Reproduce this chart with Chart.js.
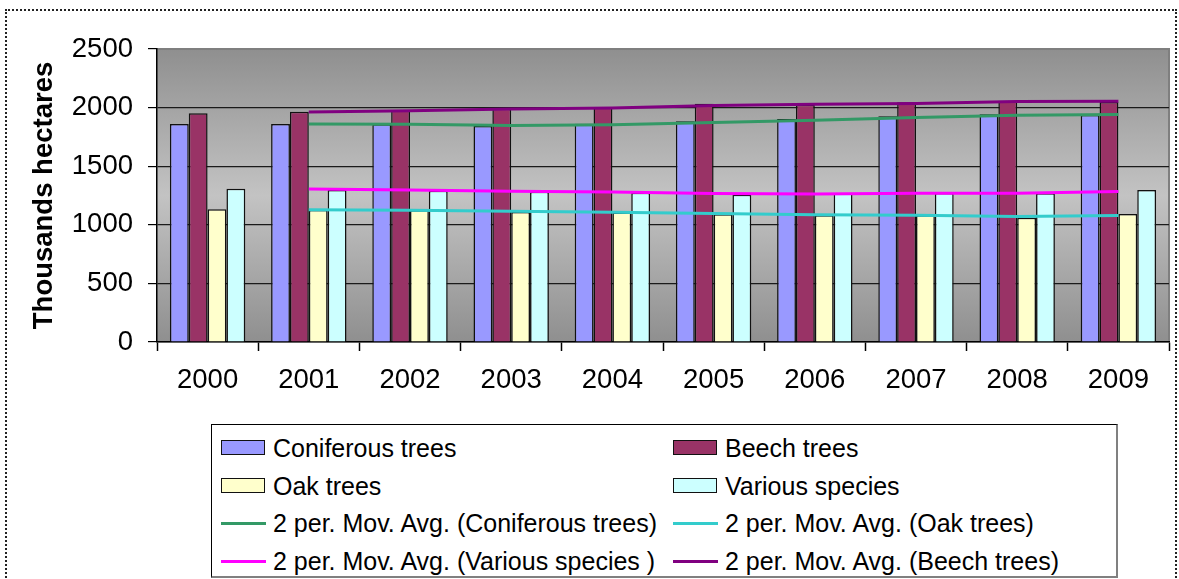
<!DOCTYPE html>
<html>
<head>
<meta charset="utf-8">
<script src="https://cdn.jsdelivr.net/npm/chart.js@4.4.1/dist/chart.umd.min.js"></script>
<style>
  html, body { margin: 0; padding: 0; background: #fff; }
  body { width: 1179px; height: 579px; position: relative; overflow: hidden; font-family: "Liberation Sans", Arial, sans-serif; }
  #frame { position: absolute; left: 5px; top: 9px; width: 1172px; height: 600px; border: 2px dotted #222; box-sizing: border-box; }
  #wrap { position: absolute; left: 0; top: 0; width: 1179px; height: 420px; }
  #legend { position: absolute; left: 211px; top: 424px; width: 907px; height: 154px; box-sizing: border-box;
            border-top: 1px solid #000; border-left: 1px solid #000; border-right: 2px solid #808080; border-bottom: 2px solid #808080; background: #fff; }
  .item { position: absolute; height: 30px; display: flex; align-items: center; font-size: 25px; color: #000; white-space: pre; }
  .sw { position: absolute; left: 0; }
  .txt { position: absolute; left: 52px; line-height: 30px; top: 0; }
</style>
</head>
<body>
<div id="frame"></div>
<div id="wrap"><canvas id="c" width="1179" height="420"></canvas></div>
<div id="legend"></div>
<script>
const years = ["2000","2001","2002","2003","2004","2005","2006","2007","2008","2009"];
const yTicks = [0, 500, 1000, 1500, 2000, 2500];

const coniferous = [1860, 1860, 1857, 1843, 1863, 1883, 1903, 1926, 1943, 1937];
const beech      = [1951, 1965, 1980, 1990, 2002, 2033, 2025, 2045, 2058, 2048];
const oak        = [1132, 1126, 1124, 1109, 1104, 1090, 1081, 1081, 1061, 1092];
const various    = [1308, 1297, 1291, 1283, 1274, 1257, 1269, 1271, 1269, 1297];

const maConiferous = [null, 1860, 1858, 1848, 1853, 1873, 1893, 1915, 1935, 1941];
const maOak        = [null, 1129, 1125, 1115, 1107, 1097, 1086, 1081, 1071, 1079];
const maVarious    = [null, 1305, 1296, 1287, 1279, 1266, 1263, 1270, 1270, 1285];
const maBeech      = [null, 1962, 1974, 1988, 1997, 2018, 2029, 2035, 2051, 2054];

const FONT = '"Liberation Sans", Arial, sans-serif';

const bgPlugin = {
  id: 'plotBg',
  beforeDraw(chart) {
    const {ctx, chartArea: a} = chart;
    const g = ctx.createLinearGradient(0, a.top, 0, a.bottom);
    g.addColorStop(0, '#8f8f8f');
    g.addColorStop(0.5, '#c3c3c3');
    g.addColorStop(1, '#8f8f8f');
    ctx.save();
    ctx.fillStyle = g;
    ctx.fillRect(a.left, a.top, a.right - a.left, a.bottom - a.top);
    ctx.strokeStyle = '#7f7f7f';
    ctx.lineWidth = 2;
    ctx.beginPath();
    ctx.moveTo(a.left, a.top);
    ctx.lineTo(a.right, a.top);
    ctx.lineTo(a.right, a.bottom);
    ctx.stroke();
    ctx.restore();
  }
};

function barDs(label, data, color) {
  return { type: 'bar', label, data, backgroundColor: color, borderColor: '#111', borderWidth: 1.5, order: 2,
           categoryPercentage: 0.745, barPercentage: 1.0 };
}
function lineDs(label, data, color) {
  return { type: 'line', label, data, borderColor: color, backgroundColor: color, borderWidth: 3,
           pointRadius: 0, tension: 0, fill: false, order: 1, spanGaps: false };
}

const chart = new Chart(document.getElementById('c'), {
  type: 'bar',
  data: {
    labels: years,
    datasets: [
      barDs('Coniferous trees', coniferous, '#9999FF'),
      barDs('Beech trees', beech, '#993366'),
      barDs('Oak trees', oak, '#FFFFCC'),
      barDs('Various species', various, '#CCFFFF'),
      lineDs('2 per. Mov. Avg. (Coniferous trees)', maConiferous, '#339966'),
      lineDs('2 per. Mov. Avg. (Oak trees)', maOak, '#33CCCC'),
      lineDs('2 per. Mov. Avg. (Various species )', maVarious, '#FF00FF'),
      lineDs('2 per. Mov. Avg. (Beech trees)', maBeech, '#800080')
    ]
  },
  options: {
    responsive: false,
    animation: false,
    devicePixelRatio: 1,
    layout: { padding: { left: 0, right: 10, top: 49, bottom: 0 } },
    plugins: { legend: { display: false }, tooltip: { enabled: false } },
    scales: {
      x: {
        offset: true,
        grid: { offset: true, drawOnChartArea: false, drawTicks: true, tickLength: 9, tickColor: '#000', tickWidth: 1.5 },
        border: { color: '#000', width: 1.5 },
        ticks: { color: '#000', font: { family: FONT, size: 27.5 }, padding: 13, maxRotation: 0 },
        afterFit(s) { s.height = 78; }
      },
      y: {
        min: 0, max: 2500,
        afterBuildTicks(s) { s.ticks = yTicks.map(v => ({ value: v })); },
        grid: {
          color: ctx => (ctx.tick && ctx.tick.value === 2500) ? 'rgba(0,0,0,0)' : '#1a1a1a',
          lineWidth: 1.2, tickLength: 9, tickColor: '#000', tickWidth: 1.2
        },
        border: { color: '#000', width: 1.5 },
        ticks: { color: '#000', font: { family: FONT, size: 27.5 }, padding: 15,
                 callback: v => String(v) },
        title: { display: true, text: 'Thousands hectares', color: '#000',
                 font: { family: FONT, size: 27.5, weight: 'bold' }, padding: { top: 28, bottom: 0 } },
        afterFit(s) { s.width = 157; }
      }
    }
  },
  plugins: [bgPlugin]
});

// HTML legend built from the chart's datasets
(function buildLegend() {
  const leg = document.getElementById('legend');
  const colX = [9, 461];
  const rowY = [8, 46, 83, 121];
  chart.data.datasets.forEach((ds, i) => {
    const col = i % 2, row = Math.floor(i / 2);
    const item = document.createElement('div');
    item.className = 'item';
    item.style.left = colX[col] + 'px';
    item.style.top = rowY[row] + 'px';
    const sw = document.createElement('div');
    sw.className = 'sw';
    if (ds.type === 'bar') {
      sw.style.width = '44px'; sw.style.height = '15px'; sw.style.top = '7px';
      sw.style.background = ds.backgroundColor; sw.style.border = '1.5px solid #111'; sw.style.boxSizing = 'border-box';
    } else {
      sw.style.width = '45px'; sw.style.height = '3px'; sw.style.top = '14px';
      sw.style.background = ds.borderColor;
    }
    const t = document.createElement('div');
    t.className = 'txt';
    t.textContent = ds.label;
    item.appendChild(sw); item.appendChild(t);
    leg.appendChild(item);
  });
})();
</script>
</body>
</html>
